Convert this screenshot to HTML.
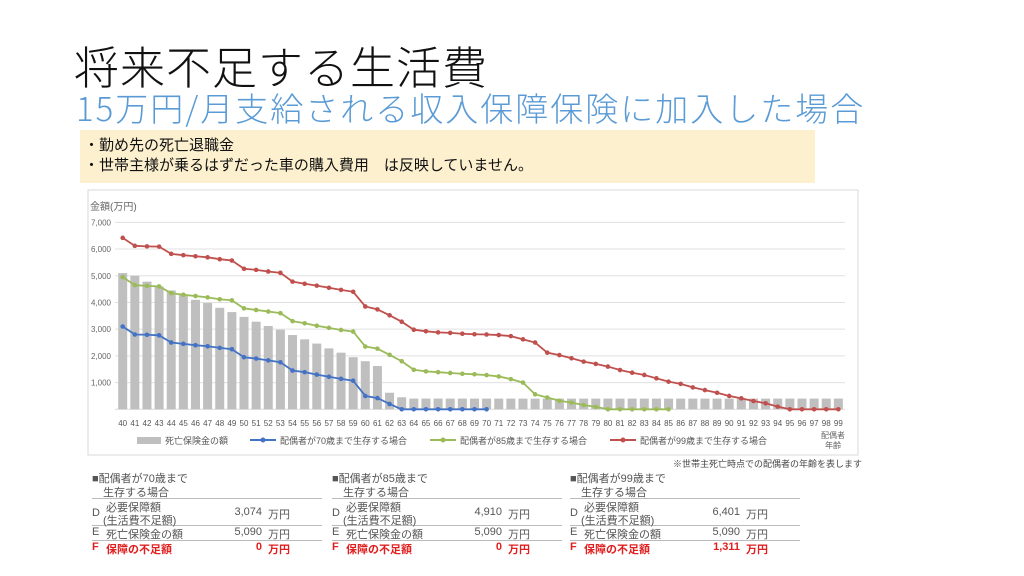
<!DOCTYPE html>
<html><head><meta charset="utf-8">
<style>
body{margin:0;width:1024px;height:576px;background:#fff;position:relative;overflow:hidden;font-family:"Liberation Sans","Noto Sans CJK JP",sans-serif}
.abs{position:absolute}
#title{left:74px;top:32px;font-size:45px;color:#111;letter-spacing:1px;white-space:nowrap;font-weight:300;font-family:"Noto Sans CJK JP",sans-serif}
#sub{left:76px;top:83px;font-size:33px;color:#5b9bd5;white-space:nowrap;letter-spacing:2px;font-weight:300;font-family:"Noto Sans CJK JP",sans-serif}
#note{left:80px;top:130px;width:735px;height:53px;background:#fdf0cf;font-size:15px;color:#111;line-height:20px;padding:6px 0 0 4px;box-sizing:border-box}
.tbl{position:absolute;top:468px;width:230px;font-size:11px;color:#555}
.tbl .r{position:absolute;left:0;width:230px;border-bottom:1px solid #bbb}
.tbl span{position:absolute;white-space:nowrap}
.red{color:#e02020;font-weight:bold}
</style></head><body>
<div id="title" class="abs">将来不足する生活費</div>
<div id="sub" class="abs">15万円/月支給される収入保障保険に加入した場合</div>
<div id="note" class="abs">・勤め先の死亡退職金<br>・世帯主様が乗るはずだった車の購入費用　は反映していません。</div>
<svg class="abs" style="left:0;top:0" width="1024" height="576" id="chart">
<rect x="88" y="190" width="770" height="265" fill="#fff" stroke="#d9d9d9"/>
<g id="grid"></g><g id="bars"></g><g id="lines"></g><g id="labels"></g>
<text x="90" y="210" font-size="10" fill="#666">金額(万円)</text>
<text x="833" y="438" font-size="8" fill="#666" text-anchor="middle">配偶者</text>
<text x="833" y="448" font-size="8" fill="#666" text-anchor="middle">年齢</text>
<g font-size="9" fill="#555">
<rect x="137" y="437" width="24" height="7" fill="#bfbfbf"/><text x="165" y="444">死亡保険金の額</text>
<line x1="250" y1="440" x2="276" y2="440" stroke="#4472c4" stroke-width="2"/><circle cx="263" cy="440" r="2.5" fill="#4472c4"/><text x="280" y="444">配偶者が70歳まで生存する場合</text>
<line x1="430" y1="440" x2="456" y2="440" stroke="#9bbb59" stroke-width="2"/><circle cx="443" cy="440" r="2.5" fill="#9bbb59"/><text x="460" y="444">配偶者が85歳まで生存する場合</text>
<line x1="610" y1="440" x2="636" y2="440" stroke="#c0504d" stroke-width="2"/><circle cx="623" cy="440" r="2.5" fill="#c0504d"/><text x="640" y="444">配偶者が99歳まで生存する場合</text>
</g>
<text x="862" y="467" font-size="9" fill="#444" text-anchor="end">※世帯主死亡時点での配偶者の年齢を表します</text>
</svg>
<div id="tables"></div>
<script>
const ages=[];for(let a=40;a<=99;a++)ages.push(a);
const yTicks=[1000,2000,3000,4000,5000,6000,7000];
const bars=[5100,5000,4780,4600,4450,4300,4100,3980,3800,3640,3460,3280,3120,2980,2780,2620,2460,2280,2120,1950,1800,1620,620,450,400,400,400,400,400,400,400,400,400,400,400,400,400,400,400,400,400,400,400,400,400,400,400,400,400,400,400,400,400,400,400,400,400,400,400,400];
const blue=[3100,2800,2790,2770,2500,2450,2400,2360,2300,2250,1950,1900,1830,1760,1450,1390,1300,1220,1140,1070,500,420,200,0,0,0,0,0,0,0,0];
const green=[4950,4650,4620,4600,4350,4290,4240,4190,4120,4080,3780,3720,3660,3600,3300,3220,3130,3050,2970,2910,2350,2270,2040,1800,1480,1420,1390,1360,1330,1310,1280,1230,1130,1000,560,440,320,250,160,90,0,0,0,0,0,0];
const red=[6420,6120,6100,6090,5820,5770,5730,5690,5620,5570,5260,5220,5160,5110,4780,4700,4630,4550,4470,4400,3850,3740,3520,3280,2980,2920,2880,2860,2830,2810,2800,2780,2740,2620,2500,2120,2030,1910,1785,1700,1600,1470,1370,1285,1160,1035,950,820,720,620,500,410,310,225,100,0,0,0,0,0];
const NS='http://www.w3.org/2000/svg';
const X=i=>122.7+i*12.13, Y=v=>409.3-v*0.02671;
function mk(t,a,p){const e=document.createElementNS(NS,t);for(const k in a)e.setAttribute(k,a[k]);p.appendChild(e);return e;}
const grid=document.getElementById('grid'),bg=document.getElementById('bars'),lg=document.getElementById('lines'),lb=document.getElementById('labels');
mk('line',{x1:115,x2:845,y1:Y(0),y2:Y(0),stroke:'#d9d9d9'},grid);
yTicks.forEach(v=>{const l=mk('line',{x1:115,x2:845,y1:Y(v),y2:Y(v),stroke:'#e0e0e0'},grid);


const t=mk('text',{x:111,y:Y(v)+3,'font-size':8,fill:'#666','text-anchor':'end'},lb);t.textContent=v.toLocaleString('en-US');

});
ages.forEach((a,i)=>{const t=mk('text',{x:X(i),y:426,'font-size':8,fill:'#555','text-anchor':'middle'},lb);t.textContent=a;


const r=mk('rect',{x:X(i)-4.5,y:Y(bars[i]),width:9,height:Y(0)-Y(bars[i]),fill:'#bfbfbf'},bg);

});
[[blue,'#4472c4','blue'],[green,'#9bbb59','green'],[red,'#c0504d','red']].forEach(([d,c,n])=>{
const p=mk('polyline',{points:d.map((v,i)=>X(i)+','+Y(v)).join(' '),fill:'none',stroke:c,'stroke-width':1.8},lg);


d.forEach((v,i)=>{const ci=mk('circle',{cx:X(i),cy:Y(v),r:2.3,fill:c},lg);

});});
const tabs=[[92,'70','3,074','0'],[332,'85','4,910','0'],[570,'99','6,401','1,311']];
const tc=document.getElementById('tables');
tabs.forEach(([x,age,d,f])=>{const t=document.createElement('div');t.className='tbl';t.style.left=x+'px';


t.innerHTML=`<div class="r" style="top:0;height:30px"><span style="left:0;top:2px">■配偶者が${age}歳まで</span><span style="left:11px;top:16px">生存する場合</span></div>
<div class="r" style="top:31px;height:26px"><span style="left:0;top:8px">D</span><span style="left:14px;top:0">必要保障額</span><span style="left:11px;top:13px">(生活費不足額)</span><span style="right:60px;top:7px">${d}</span><span style="left:176px;top:7px">万円</span></div>
<div class="r" style="top:58px;height:14px"><span style="left:0;top:0">E</span><span style="left:14px;top:0">死亡保険金の額</span><span style="right:60px;top:0">5,090</span><span style="left:176px;top:0">万円</span></div>
<div class="r red" style="top:73px;height:14px;border:none"><span style="left:0;top:0">F</span><span style="left:14px;top:0">保障の不足額</span><span style="right:60px;top:0">${f}</span><span style="left:176px;top:0">万円</span></div>`;
tc.appendChild(t);});
</script>
</body></html>
